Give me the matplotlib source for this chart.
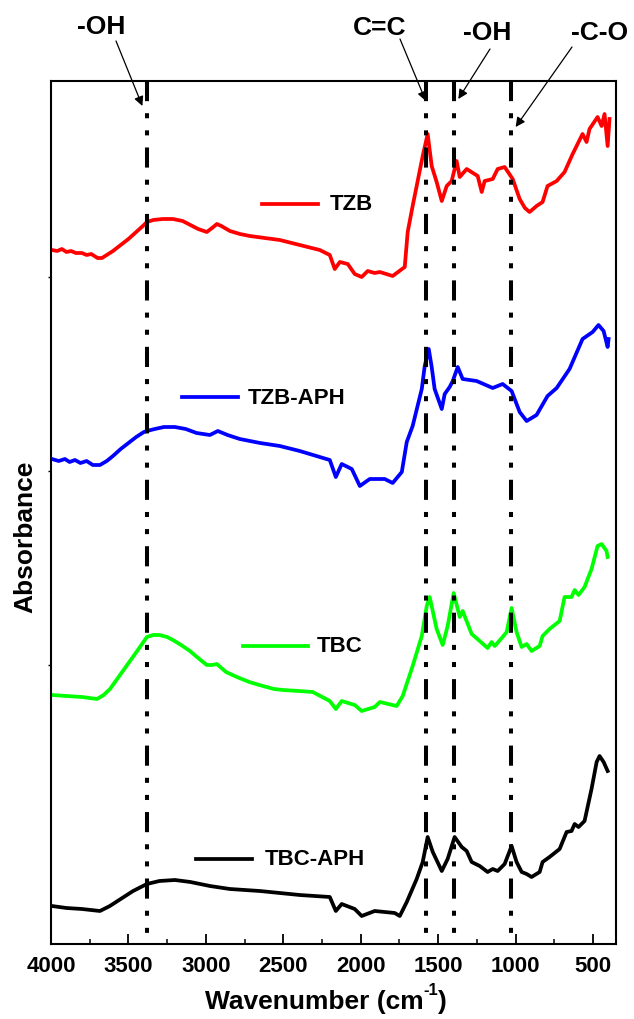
import matplotlib.pyplot as plt
import numpy as np

plt.rcParams['font.family'] = ['Liberation Sans', 'DejaVu Sans']
plt.rcParams['font.weight'] = 'bold'

# FTIR spectra (wavenumber in cm-1, stacked absorbance in a.u.)
wn_tzb = [3994, 3960, 3930, 3900, 3870, 3840, 3800, 3770, 3740, 3700, 3671, 3640, 3600, 3550,
          3500, 3450, 3400, 3381, 3340, 3280, 3213, 3150, 3100, 3050, 2994, 2960, 2929, 2900,
          2845, 2780, 2716, 2620, 2523, 2394, 2265, 2200, 2168, 2135, 2084, 2039,
          1994, 1955, 1910, 1877, 1794, 1716, 1697, 1665, 1600, 1568, 1542, 1510, 1477, 1445,
          1413, 1381, 1361, 1316, 1245, 1219, 1200, 1148, 1116, 1071, 1019, 974, 940, 910, 865,
          826, 794, 735, 684, 632, 568, 542, 523, 471, 445, 426, 406, 394]
abs_tzb = [6.94, 6.93, 6.95, 6.92, 6.93, 6.91, 6.91, 6.89, 6.90, 6.86, 6.86, 6.89, 6.93, 6.99,
           7.05, 7.12, 7.19, 7.22, 7.24, 7.25, 7.25, 7.23, 7.19, 7.15, 7.12, 7.16, 7.20, 7.18,
           7.13, 7.10, 7.08, 7.06, 7.04, 6.99, 6.94, 6.89, 6.75, 6.82, 6.80, 6.70,
           6.67, 6.73, 6.71, 6.72, 6.68, 6.77, 7.12, 7.38, 7.88, 8.10, 7.78, 7.62, 7.43, 7.58,
           7.63, 7.83, 7.67, 7.75, 7.68, 7.52, 7.63, 7.65, 7.75, 7.77, 7.65, 7.45, 7.36, 7.32, 7.38,
           7.42, 7.58, 7.63, 7.72, 7.90, 8.10, 8.02, 8.15, 8.27, 8.18, 8.30, 7.98, 8.25]

wn_tzb_aph = [3994, 3950, 3910, 3880, 3845, 3810, 3770, 3730, 3684, 3640, 3600, 3550, 3500, 3450,
              3400, 3381, 3330, 3270, 3200, 3130, 3060, 2974, 2923, 2860, 2781, 2650, 2523, 2394,
              2200, 2161, 2123, 2058, 2006, 1942, 1845, 1794, 1735, 1703,
              1665, 1606, 1587, 1561, 1542, 1523, 1477, 1458, 1426, 1406, 1374, 1342, 1252, 1148,
              1084, 1026, 974, 929, 865, 794, 735, 652, 568, 503, 465, 432, 406, 400]
abs_tzb_aph = [4.85, 4.83, 4.85, 4.82, 4.84, 4.81, 4.83, 4.79, 4.79, 4.83, 4.88, 4.95, 5.01, 5.07,
               5.12, 5.13, 5.15, 5.17, 5.17, 5.15, 5.11, 5.09, 5.13, 5.09, 5.05, 5.01, 4.98, 4.93,
               4.84, 4.67, 4.80, 4.75, 4.58, 4.65, 4.65, 4.61, 4.72, 5.02,
               5.18, 5.55, 5.78, 5.95, 5.77, 5.55, 5.35, 5.50, 5.57, 5.63, 5.77, 5.65, 5.63, 5.56,
               5.60, 5.53, 5.32, 5.23, 5.29, 5.48, 5.56, 5.75, 6.05, 6.12, 6.19, 6.13, 5.97, 6.05]

wn_tbc = [3994, 3900, 3800, 3703, 3660, 3619, 3550, 3490, 3430, 3381, 3340, 3300, 3250, 3213,
          3160, 3103, 3050, 2994, 2960, 2929, 2870, 2800, 2720, 2632, 2560, 2503, 2400, 2310,
          2200, 2161, 2123, 2039, 1994, 1910, 1877, 1768, 1729, 1665, 1606, 1574,
          1555, 1510, 1471, 1439, 1400, 1361, 1342, 1284, 1232, 1181, 1155, 1135, 1084, 1058,
          1026, 994, 961, 929, 897, 845, 826, 781, 716, 684, 639, 619, 594, 555, 510, 471,
          445, 413, 406]
abs_tbc = [2.49, 2.48, 2.47, 2.45, 2.49, 2.55, 2.70, 2.83, 2.96, 3.07, 3.09, 3.09, 3.07, 3.04,
           2.99, 2.93, 2.86, 2.79, 2.79, 2.80, 2.72, 2.67, 2.62, 2.58, 2.55, 2.54, 2.53, 2.52,
           2.43, 2.35, 2.43, 2.39, 2.33, 2.37, 2.42, 2.38, 2.48, 2.78, 3.08, 3.38,
           3.47, 3.15, 2.99, 3.18, 3.51, 3.27, 3.33, 3.10, 3.03, 2.96, 3.02, 2.98, 3.07, 3.12,
           3.36, 3.12, 2.97, 3.00, 2.93, 2.98, 3.08, 3.15, 3.23, 3.47, 3.47, 3.54, 3.49, 3.57,
           3.75, 3.98, 4.00, 3.93, 3.87]

wn_tbc_aph = [3994, 3900, 3800, 3684, 3620, 3550, 3470, 3381, 3300, 3200, 3100, 2974, 2845, 2652,
              2394, 2200, 2161, 2123, 2039, 1994, 1910, 1781, 1748, 1703, 1639, 1600, 1568, 1535,
              1477, 1439, 1394, 1348, 1316, 1284, 1232, 1181, 1148, 1116, 1071, 1026, 994, 961,
              929, 897, 845, 826, 781, 716, 671, 639, 619, 594, 555, 510, 477, 458, 432, 406]
abs_tbc_aph = [0.38, 0.36, 0.35, 0.33, 0.38, 0.45, 0.53, 0.60, 0.63, 0.64, 0.62, 0.58, 0.55, 0.53,
               0.49, 0.47, 0.33, 0.40, 0.35, 0.28, 0.33, 0.31, 0.28, 0.42, 0.65, 0.82, 1.07, 0.92,
               0.73, 0.85, 1.07, 0.97, 0.93, 0.82, 0.78, 0.72, 0.75, 0.73, 0.80, 0.98, 0.82, 0.72,
               0.70, 0.67, 0.72, 0.82, 0.87, 0.95, 1.12, 1.13, 1.20, 1.17, 1.23, 1.55, 1.82, 1.88,
               1.82, 1.73]

series = [
    ('TZB', wn_tzb, abs_tzb, 'red'),
    ('TZB-APH', wn_tzb_aph, abs_tzb_aph, 'blue'),
    ('TBC', wn_tbc, abs_tbc, '#00ff00'),
    ('TBC-APH', wn_tbc_aph, abs_tbc_aph, 'black'),
]

# label line start/end (cm-1), height, text start
label_pos = {
    'TZB': (2639, 2277, 7.40, 2200),
    'TZB-APH': (3155, 2794, 5.47, 2729),
    'TBC': (2761, 2342, 2.98, 2284),
    'TBC-APH': (3064, 2703, 0.85, 2619),
}

# band assignments
bands = [3380, 1580, 1395, 1030]
band_names = ['-OH', 'C=C', '-OH', '-C-O']
band_tip = [(3410, 8.38), (1580, 8.43), (1370, 8.45), (1000, 8.17)]
band_text_px = [(101, 27), (380, 28), (487, 33), (600, 33)]
band_tail_px = [(116, 42), (400, 40), (490, 50), (572, 48)]

fig = plt.figure(figsize=(6.34, 10.2), dpi=100)
ax = fig.add_axes([51 / 634, 75 / 1020, 565 / 634, 863 / 1020])

for name, wn, a, c in series:
    ax.plot(wn, a, color=c, lw=2.7, solid_joinstyle='round', zorder=2)
    x0, x1, yl, xt = label_pos[name]
    ax.plot([x0, x1], [yl, yl], color=c, lw=2.7, zorder=2)
    ax.text(xt, yl, name, fontsize=16, fontweight='bold', va='center', ha='left')

ax.set_xlim(4000, 352)
ax.set_ylim(0, 8.63)

for w in bands:
    ax.plot([w, w], [8.63, 0], color='black', lw=2.9, zorder=3,
            linestyle=(0, (5, 3, 1.25, 3, 1.25, 3)), clip_on=False)

for name, tip, (tx, ty), (qx, qy) in zip(band_names, band_tip, band_text_px, band_tail_px):
    fig.text(tx / 634, 1 - ty / 1020, name, fontsize=19, fontweight='bold', ha='center', va='center')
    ax.annotate('', xy=tip, xycoords='data',
                xytext=(qx, 1020 - qy), textcoords='figure pixels',
                arrowprops=dict(arrowstyle='-|>', lw=0.9, color='black', mutation_scale=14,
                                shrinkA=0, shrinkB=0))

ax.set_xticks([4000, 3500, 3000, 2500, 2000, 1500, 1000, 500])
ax.set_xticks(np.arange(3750, 350, -500), minor=True)
ax.tick_params(axis='x', which='major', direction='in', length=7, width=1.3, labelsize=16, pad=8)
ax.tick_params(axis='x', which='minor', direction='in', length=3.5, width=1.1)
ax.set_yticks([2.79, 4.73, 6.67])
ax.tick_params(axis='y', which='major', direction='out', length=2.5, width=1, labelleft=False)
for lab in ax.get_xticklabels():
    lab.set_fontweight('bold')
for s in ax.spines.values():
    s.set_linewidth(1.5)

# x label with a plain-hyphen superscript, built from three pieces
r = fig.canvas.get_renderer()
pieces = [('Wavenumber (cm', 19, 0), ('-1', 12, 9), (')', 19, 0)]
widths = []
for txt, fs, _ in pieces:
    t = fig.text(0, 0, txt, fontsize=fs, fontweight='bold')
    widths.append(t.get_window_extent(r).width)
    t.remove()
x = 326 - sum(widths) / 2
for (txt, fs, dy), wd in zip(pieces, widths):
    fig.text(x / 634, (1020 - 1000 + dy) / 1020, txt, fontsize=fs, fontweight='bold',
             ha='left', va='center_baseline' if dy == 0 else 'center')
    x += wd

fig.text(25 / 634, 1 - 537 / 1020, 'Absorbance', fontsize=19, fontweight='bold',
         rotation=90, ha='center', va='center')

fig.savefig('out.png', dpi=100)
